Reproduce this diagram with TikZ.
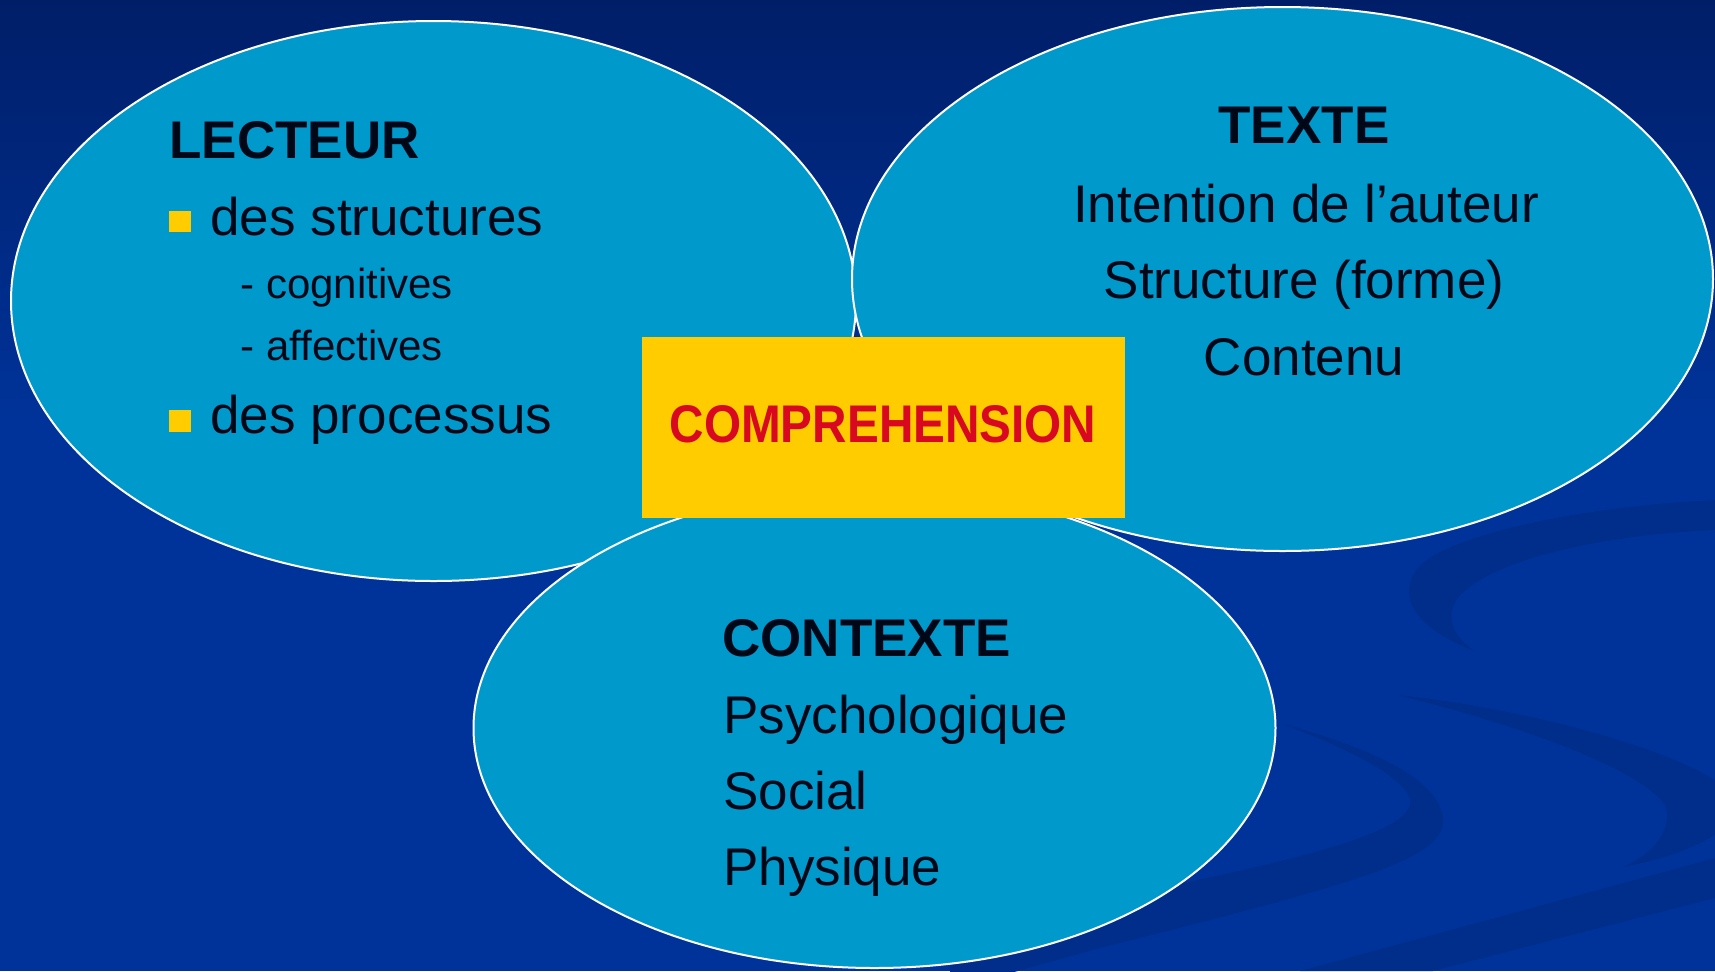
\documentclass[tikz,border=0pt]{standalone}
\usepackage{fontspec}
\setmainfont{Liberation Sans}
\usetikzlibrary{shapes.geometric}
\definecolor{bgtop}{HTML}{001E68}
\definecolor{bgblue}{HTML}{003399}
\definecolor{swoosh}{HTML}{002E8A}
\definecolor{ellfill}{HTML}{0099CC}
\definecolor{yel}{HTML}{FFCC00}
\definecolor{redt}{HTML}{D7081F}
\definecolor{ink}{HTML}{000818}
\begin{document}
\begin{tikzpicture}[x=0.5pt,y=-0.5pt,
  bubble/.style={ellipse, draw=white, line width=1pt, fill=ellfill, inner sep=0},
  big/.style={inner sep=0, text=ink, font=\fontsize{26.5}{30}\selectfont},
  bigb/.style={inner sep=0, text=ink, font=\fontsize{26.5}{30}\selectfont\bfseries},
  small/.style={inner sep=0, text=ink, font=\fontsize{21}{25}\selectfont},
  sq/.style={fill=yel, draw=none, minimum size=10.85pt, inner sep=0},
  swoo/.style={fill=swoosh, draw=none}
]
\useasboundingbox (0,0) rectangle (1715,971);
% background
\shade[top color=bgtop, bottom color=bgblue] (0,0) rectangle (1715,420);
\fill[bgblue] (0,419) rectangle (1715,971);
% swooshes
\fill[swoo] (1715,500) .. controls (1600,505) and (1460,530) .. (1420,565)
  .. controls (1398,590) and (1405,625) .. (1477,652)
  .. controls (1452,638) and (1445,615) .. (1458,598)
  .. controls (1490,560) and (1600,535) .. (1715,530) -- cycle;
\fill[swoo] (1277,722) .. controls (1360,745) and (1440,775) .. (1443,820)
  .. controls (1445,860) and (1350,885) .. (1100,948) -- (950,990) -- (950,935) -- (1100,900)
  .. controls (1300,860) and (1400,835) .. (1410,805)
  .. controls (1415,780) and (1340,745) .. (1277,722) -- cycle;
\fill[swoo] (1397,695) .. controls (1500,705) and (1650,740) .. (1715,780) -- (1715,835)
  .. controls (1690,850) and (1660,860) .. (1623,867)
  .. controls (1660,850) and (1672,825) .. (1665,805)
  .. controls (1640,770) and (1530,728) .. (1397,695) -- cycle;
\fill[swoo] (1715,858) -- (1300,971) -- (1433,971) -- (1715,898) -- cycle;
% bubbles
\node[bubble, minimum width=422.5pt, minimum height=280pt] (lect) at (433.5,301) {};
\node[bubble, minimum width=430.5pt, minimum height=272pt] (texte) at (1282.5,279) {};
\node[bubble, minimum width=401pt, minimum height=240pt] (ctx) at (874.5,728) {};
\node[fill=yel, draw=none, inner sep=0, minimum width=241.5pt, minimum height=90.5pt] (comp) at (883.5,427.5) {};
\node[inner sep=0, anchor=base, text=redt, font=\fontsize{26.5}{30}\selectfont\bfseries] (comptxt) at (883,442) {\scalebox{0.9}[1]{COMPREHENSION}};
% LECTEUR
\node[bigb, anchor=base west] (l0) at (169,158) {LECTEUR};
\node[sq] (b1) at (179.85,221.35) {};
\node[big, anchor=base west] (l1) at (210,235) {des structures};
\node[small, anchor=base west] (l2) at (240,298) {- cognitives};
\node[small, anchor=base west] (l3) at (240,360) {- affectives};
\node[sq] (b2) at (179.85,420.85) {};
\node[big, anchor=base west] (l4) at (210,433) {des processus};
% TEXTE
\node[bigb, anchor=base] (t0) at (1304,143) {TEXTE};
\node[big, anchor=base] (t1) at (1306,222) {Intention de l’auteur};
\node[big, anchor=base] (t2) at (1304,298) {Structure (forme)};
\node[big, anchor=base] (t3) at (1304,375) {Contenu};
% CONTEXTE
\node[bigb, anchor=base west] (c0) at (722,656) {CONTEXTE};
\node[big, anchor=base west] (c1) at (723,733) {Psychologique};
\node[big, anchor=base west] (c2) at (723,809) {Social};
\node[big, anchor=base west] (c3) at (723,885) {Physique};
\end{tikzpicture}
\end{document}
